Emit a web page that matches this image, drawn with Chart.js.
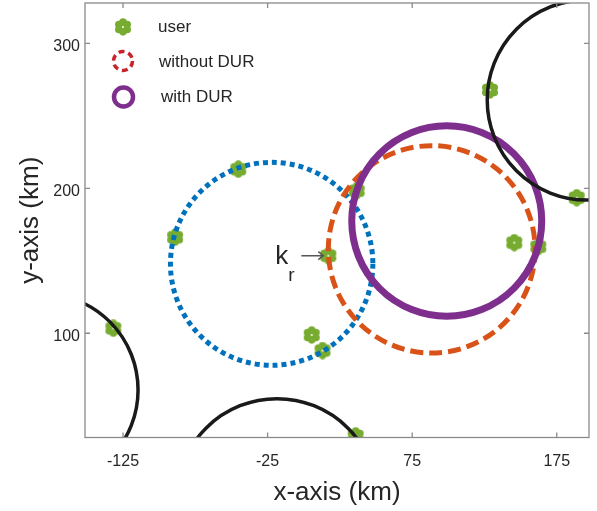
<!DOCTYPE html>
<html>
<head>
<meta charset="utf-8">
<script src="https://cdn.jsdelivr.net/npm/chart.js@4.4.1/dist/chart.umd.min.js"></script>
<style>
    html, body { margin: 0; padding: 0; background: #fff; }
</style>
</head>
<body>
<canvas id="chart" width="597" height="511"></canvas>
<script>
// Posiciones de los usuarios (km)
const userX = [-45.3, -89, 128.8, 188.8, 145.6, 162.2, -131.7, 5.5, 13, 35.9, 36.6, 17];
const userY = [213.1, 166.2, 267.8, 193.5, 162.5, 159.7, 103.4, 98.8, 88.1, 29.2, 198.3, 153.5];

// Círculos de cobertura: centro y radio (km)
const circleX = [-22.2, 88.5, 98.9, 195.9, -181, -18.5];
const circleY = [147.9, 157.9, 177.4, 260.9, 60.9, -14.6];
const circleR = [70, 71.5, 65.7, 69, 66.4, 69.5];

const xTicks = [-125, -25, 75, 175];
const yTicks = [100, 200, 300];
const legendLabels = ['user', 'without DUR', 'with DUR'];
const krIndex = 11; // usuario señalado con k_r

const xMin = -151.3, xMax = 197.3;
const yMin = 28.1, yMax = 327.8;

// estilos de cada círculo (mismo orden que circleX)
const circleStyle = [
    { color: '#0072BD', width: 5, dash: [5, 4] },
    { color: '#D95319', width: 5, dash: [13, 6] },
    { color: '#7E2F8E', width: 7, dash: [] },
    { color: '#1a1a1a', width: 3.5, dash: [] },
    { color: '#1a1a1a', width: 3.5, dash: [] },
    { color: '#1a1a1a', width: 3.5, dash: [] }
];

const FONT = '"Liberation Sans", Arial, sans-serif';
const TEXT = '#262626';

// Marcador en forma de flor
function makeFlower(size) {
    const c = document.createElement('canvas');
    c.width = c.height = size;
    const g = c.getContext('2d');
    const m = size / 2;
    g.fillStyle = '#77AC30';
    for (let i = 0; i < 6; i++) {
        const a = i * Math.PI / 3 - Math.PI / 2;
        g.beginPath();
        g.arc(m + Math.cos(a) * size * 0.27, m + Math.sin(a) * size * 0.27, size * 0.21, 0, 2 * Math.PI);
        g.fill();
    }
    g.beginPath();
    g.arc(m, m, size * 0.32, 0, 2 * Math.PI);
    g.fill();
    g.fillStyle = '#fff';
    g.beginPath();
    g.arc(m, m, 1, 0, 2 * Math.PI);
    g.fill();
    return c;
}
const flower = makeFlower(18);

const circlesPlugin = {
    id: 'circles',
    afterDatasetsDraw(chart) {
        const { ctx, chartArea: a, scales: { x, y } } = chart;
        ctx.save();
        ctx.beginPath();
        ctx.rect(a.left, a.top, a.right - a.left, a.bottom - a.top);
        ctx.clip();
        circleX.forEach((cx, i) => {
            const px = x.getPixelForValue(cx);
            const py = y.getPixelForValue(circleY[i]);
            const rx = Math.abs(x.getPixelForValue(cx + circleR[i]) - px);
            const ry = Math.abs(y.getPixelForValue(circleY[i] + circleR[i]) - py);
            const s = circleStyle[i];
            ctx.strokeStyle = s.color;
            ctx.lineWidth = s.width;
            ctx.setLineDash(s.dash);
            ctx.beginPath();
            ctx.ellipse(px, py, rx, ry, 0, 0, 2 * Math.PI);
            ctx.stroke();
        });
        ctx.restore();
    }
};

const boxPlugin = {
    id: 'box',
    afterDraw(chart) {
        const { ctx, chartArea: a, scales: { x, y } } = chart;
        ctx.save();
        ctx.strokeStyle = '#8a8a8a';
        ctx.lineWidth = 1.3;
        ctx.strokeRect(a.left, a.top, a.right - a.left, a.bottom - a.top);
        ctx.beginPath();
        xTicks.forEach(v => {
            const px = x.getPixelForValue(v);
            ctx.moveTo(px, a.bottom); ctx.lineTo(px, a.bottom - 5);
            ctx.moveTo(px, a.top); ctx.lineTo(px, a.top + 5);
        });
        yTicks.forEach(v => {
            const py = y.getPixelForValue(v);
            ctx.moveTo(a.left, py); ctx.lineTo(a.left + 5, py);
            ctx.moveTo(a.right, py); ctx.lineTo(a.right - 5, py);
        });
        ctx.stroke();

        // Leyenda
        const lx = a.left + 38;
        ctx.drawImage(flower, lx - 9, a.top + 24 - 9);
        ctx.lineWidth = 3.5;
        ctx.strokeStyle = '#C8232B';
        ctx.setLineDash([6, 4]);
        ctx.beginPath();
        ctx.arc(lx, a.top + 58, 9.5, 0, 2 * Math.PI);
        ctx.stroke();
        ctx.setLineDash([]);
        ctx.lineWidth = 4.5;
        ctx.strokeStyle = '#7E2F8E';
        ctx.beginPath();
        ctx.arc(lx + 0.5, a.top + 94, 9.5, 0, 2 * Math.PI);
        ctx.stroke();
        ctx.fillStyle = TEXT;
        ctx.font = '17px ' + FONT;
        ctx.textBaseline = 'middle';
        ctx.textAlign = 'left';
        ctx.fillText(legendLabels[0], lx + 35, a.top + 24);
        ctx.fillText(legendLabels[1], lx + 36, a.top + 59);
        ctx.fillText(legendLabels[2], lx + 38, a.top + 94);

        // Anotación k_r
        const kx = x.getPixelForValue(userX[krIndex]);
        const ky = y.getPixelForValue(userY[krIndex]);
        ctx.strokeStyle = '#555';
        ctx.lineWidth = 1.5;
        ctx.beginPath();
        ctx.moveTo(kx - 27, ky); ctx.lineTo(kx - 5, ky);
        ctx.moveTo(kx - 10, ky - 4); ctx.lineTo(kx - 5, ky); ctx.lineTo(kx - 10, ky + 4);
        ctx.stroke();
        ctx.textBaseline = 'alphabetic';
        ctx.textAlign = 'right';
        ctx.font = '26px ' + FONT;
        ctx.fillText('k', kx - 40, ky + 8);
        ctx.textAlign = 'left';
        ctx.font = '19px ' + FONT;
        ctx.fillText('r', kx - 40, ky + 25);
        ctx.restore();
    }
};

new Chart(document.getElementById('chart').getContext('2d'), {
    type: 'scatter',
    data: {
        datasets: [{
            label: 'user',
            data: userX.map((v, i) => ({ x: v, y: userY[i] })),
            pointStyle: flower,
            pointRadius: 9,
            showLine: false
        }]
    },
    options: {
        responsive: false,
        animation: false,
        layout: { autoPadding: false, padding: { top: 3, right: 8, left: 0, bottom: 0 } },
        plugins: { legend: { display: false }, tooltip: { enabled: false } },
        scales: {
            x: {
                type: 'linear',
                min: xMin,
                max: xMax,
                grid: { display: false, drawTicks: false },
                border: { display: false },
                afterBuildTicks: s => { s.ticks = xTicks.map(v => ({ value: v })); },
                afterFit: s => { s.height = 73.5; s.paddingLeft = 0; s.paddingRight = 0; },
                ticks: { color: TEXT, font: { family: FONT, size: 16 }, padding: 14, maxRotation: 0 },
                title: { display: true, text: 'x-axis (km)', color: TEXT, font: { family: FONT, size: 26 }, padding: { top: 0, bottom: 3 } }
            },
            y: {
                type: 'linear',
                min: yMin,
                max: yMax,
                grid: { display: false, drawTicks: false },
                border: { display: false },
                afterBuildTicks: s => { s.ticks = yTicks.map(v => ({ value: v })); },
                afterFit: s => { s.width = 85; s.paddingTop = 0; s.paddingBottom = 0; },
                ticks: { color: TEXT, font: { family: FONT, size: 16 }, padding: 5, labelOffset: 3 },
                title: { display: true, text: 'y-axis (km)', color: TEXT, font: { family: FONT, size: 26 }, padding: { top: 15, bottom: 0 } }
            }
        }
    },
    plugins: [circlesPlugin, boxPlugin]
});
</script>
</body>
</html>
